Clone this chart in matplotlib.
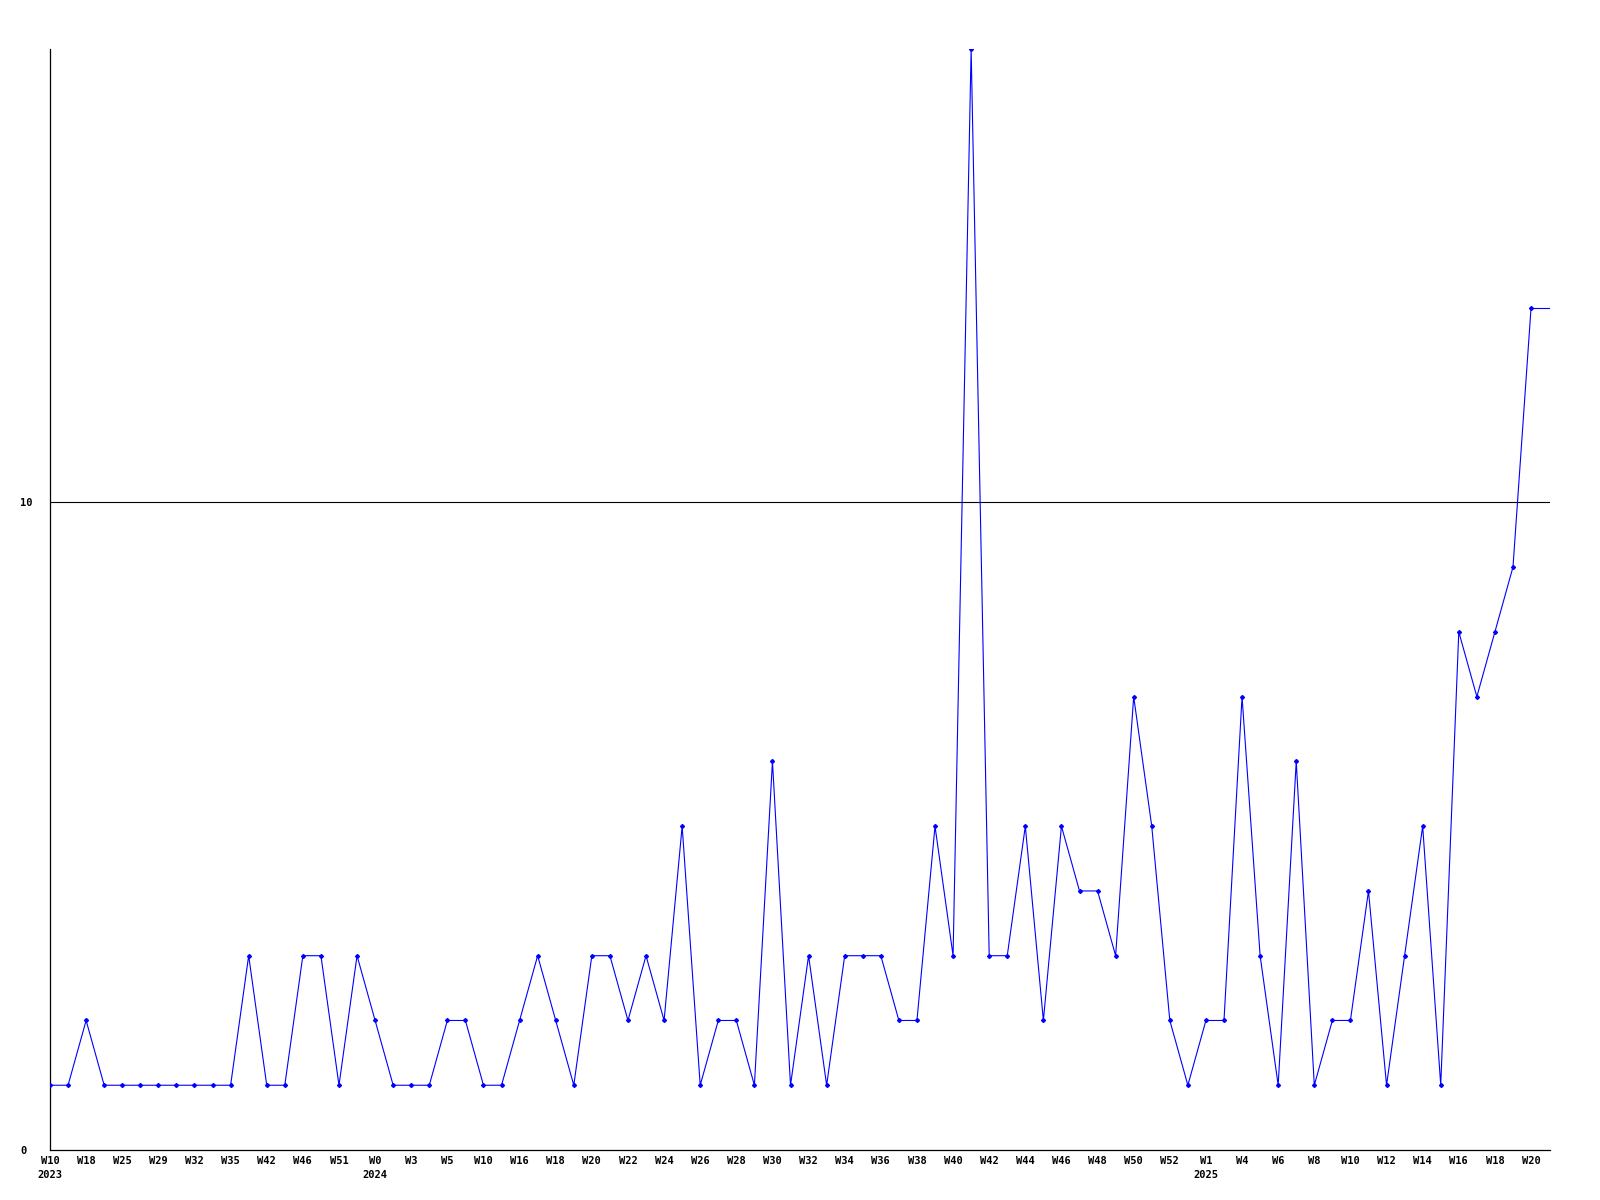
import matplotlib
matplotlib.use("Agg")
from matplotlib import pyplot as plt
import numpy as np

# one value per point, plotted evenly spaced
values = [1, 1, 2, 1, 1, 1, 1, 1, 1, 1, 1, 3, 1, 1, 3, 3, 1, 3, 2, 1,
          1, 1, 2, 2, 1, 1, 2, 3, 2, 1, 3, 3, 2, 3, 2, 5, 1, 2, 2, 1,
          6, 1, 3, 1, 3, 3, 3, 2, 2, 5, 3, 17, 3, 3, 5, 2, 5, 4, 4, 3,
          7, 5, 2, 1, 2, 2, 7, 3, 1, 6, 1, 2, 2, 4, 1, 3, 5, 1, 8, 7,
          8, 9, 13]

# labels on every second point
week_labels = ["W10", "W18", "W25", "W29", "W32", "W35", "W42", "W46", "W51",
               "W0", "W3", "W5", "W10", "W16", "W18", "W20", "W22", "W24",
               "W26", "W28", "W30", "W32", "W34", "W36", "W38", "W40", "W42",
               "W44", "W46", "W48", "W50", "W52", "W1", "W4", "W6", "W8",
               "W10", "W12", "W14", "W16", "W18", "W20"]
year_labels = {0: "2023", 9: "2024", 32: "2025"}

y_ticks = [0, 10]
y_max = 17


def plot():
    fig = plt.figure(figsize=(16, 12), dpi=100)
    ax = fig.add_axes([50 / 1600, 1 - 1150 / 1200, 1500 / 1600, (1150 - 49) / 1200])

    x = np.arange(len(values))
    x_right = x[-1] + 1.05
    ax.plot(x, values, color="#0000ff", linewidth=0.8, marker="D",
            markersize=2.0, zorder=3)
    # flat continuation to the right edge
    ax.plot([x[-1], x_right], [values[-1], values[-1]], color="#0000ff",
            linewidth=0.8, zorder=3)

    ax.set_xlim(0, x_right)
    ax.set_ylim(0, y_max)

    ax.axhline(10, color="black", linewidth=0.8, zorder=1)

    ticks = x[::2]
    labels = []
    for i, lab in enumerate(week_labels):
        if i in year_labels:
            labels.append(lab + "\n" + year_labels[i])
        else:
            labels.append(lab)
    ax.set_xticks(ticks)
    ax.set_xticklabels(labels, fontfamily="DejaVu Sans Mono",
                       fontweight="bold", fontsize=7.5, linespacing=1.55,
                       va="top")
    ax.tick_params(axis="x", length=0, pad=4)

    ax.set_yticks(y_ticks)
    ax.set_yticklabels([str(v) for v in y_ticks], fontfamily="DejaVu Sans Mono",
                       fontweight="bold", fontsize=7.5, ha="left")
    ax.tick_params(axis="y", length=0, pad=21.6)

    for side in ["top", "right"]:
        ax.spines[side].set_visible(False)
    for side in ["left", "bottom"]:
        ax.spines[side].set_linewidth(0.9)
        ax.spines[side].set_color("black")

    fig.savefig("out.png", dpi=100, facecolor="white")


def main():
    plot()


if __name__ == "__main__":
    main()
